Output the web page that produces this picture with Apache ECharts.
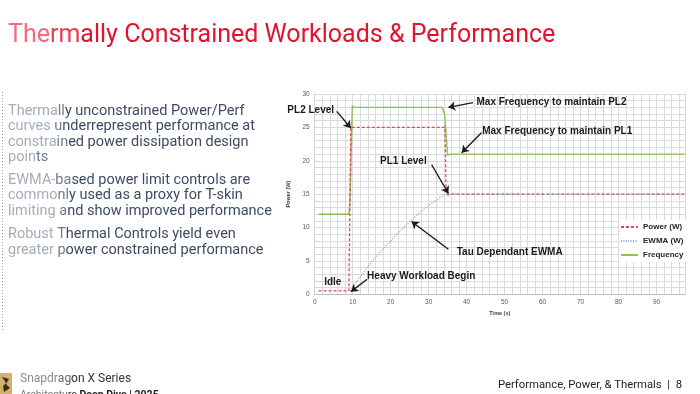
<!DOCTYPE html>
<html><head><meta charset="utf-8">
<script src="https://cdn.jsdelivr.net/npm/echarts@6/dist/echarts.min.js"></script>
<style>html,body{margin:0;padding:0;background:#fff}#c{width:700px;height:394px}</style>
</head><body><div id="c"></div>
<script>
// ---- data ----
const seriesNames = ['Power (W)', 'EWMA (W)', 'Frequency'];
const powerData = [[1,0.5],[9,0.5],[9.3,0.5],[9.5,25],[10,25.1],[34.3,25],[34.6,15.2],[35,14.9],[36,15],[97.5,15]];
const ewmaData = [[9.3,0.5],[10,1.1],[12,2.6],[14,4.1],[16,5.5],[18,6.8],[20,8.0],[22,9.2],[24,10.3],[26,11.4],[28,12.4],[30,13.3],[32,14.1],[34,14.8],[35,15.1],[36,15],[97.5,15]];
const freqData = [[1,12],[9,12],[9.1,11.9],[9.3,14],[9.9,28.2],[10.5,28],[33.5,28],[33.9,28.1],[34.2,27],[35,20.8],[35.6,21],[97.5,21]];
const xTickLabels = [0,10,20,30,40,50,60,70,80,90];
const yTickLabels = [0,5,10,15,20,25,30];
const xName = 'Time (s)';
const yName = 'Power (W)';
// annotation texts anchored at data coordinates (left edge, vertical middle)
const annotationTexts = ['PL2 Level','Max Frequency to maintain PL2','Max Frequency to maintain PL1','PL1 Level','Tau Dependant EWMA','Idle','Heavy Workload Begin'];
const annotationAnchors = [[-7.2,27.5],[42.6,28.8],[44.1,24.4],[17.2,19.9],[37.4,6.3],[2.5,1.75],[13.8,2.65]];
// arrows: [from, to] in data coordinates
const arrowFrom = [[5.8,27.4],[41.7,28.7],[43.9,24.2],[30.8,19.4],[35.2,6.75],[13.8,2.25]];
const arrowTo   = [[9.5,24.9],[35.2,28.0],[38.7,21.2],[35.2,15.1],[25.5,10.9],[9.55,0.4]];
// slide texts
const titleText = 'Thermally Constrained Workloads & Performance';
const bulletParagraphs = [
  ['Thermally unconstrained Power/Perf','curves underrepresent performance at','constrained power dissipation design','points'],
  ['EWMA-based power limit controls are','commonly used as a proxy for T-skin','limiting and show improved performance'],
  ['Robust Thermal Controls yield even','greater power constrained performance']
];
// how many leading characters of each line are drawn faded
const bulletFade = [[8,8,9,6],[7,7,10],[8,9]];
const footerLeft1 = 'Snapdragon X Series';
const footerLeft2a = 'Architecture ';
const footerLeft2b = 'Deep Dive | 2025';
const footerRight = 'Performance, Power, & Thermals  |  8';

const chart = echarts.init(document.getElementById('c'), null, {renderer:'canvas'});
const CF = 'Liberation Sans';
const SF = 'Roboto';

chart.setOption({
  animation: false,
  backgroundColor: '#ffffff',
  grid: {left: 314.7, top: 94, right: 15, bottom: 99.7, containLabel: false},
  legend: {
    data: seriesNames, orient: 'vertical', left: 619, top: 220,
    itemWidth: 17, itemHeight: 8, itemGap: 6,
    backgroundColor: '#ffffff', padding: [3, 4, 3, 1],
    itemStyle: {opacity: 0},
    textStyle: {fontFamily: CF, fontWeight: 'bold', fontSize: 8, color: '#262626'}
  },
  xAxis: {
    type: 'value', min: 0, max: 97.5, interval: 2,
    name: xName, nameLocation: 'middle', nameGap: 16,
    nameTextStyle: {fontFamily: CF, fontSize: 5.5, fontWeight: 'bold', color: '#404040'},
    axisLine: {show: true, lineStyle: {color: '#bfbfbf', width: 1}},
    axisTick: {show: false},
    axisLabel: {fontFamily: CF, fontSize: 6.5, color: '#595959', margin: 4,
      formatter: v => xTickLabels.indexOf(Math.round(v*100)/100) >= 0 ? String(v) : ''},
    splitLine: {show: true, lineStyle: {color: '#dadada', width: 1}}
  },
  yAxis: {
    type: 'value', min: 0, max: 30, interval: 1,
    name: yName, nameLocation: 'middle', nameGap: 17,
    nameTextStyle: {fontFamily: CF, fontSize: 5.5, fontWeight: 'bold', color: '#404040'},
    axisLine: {show: true, lineStyle: {color: '#d0d0d0', width: 1}},
    axisTick: {show: false},
    axisLabel: {fontFamily: CF, fontSize: 6.5, color: '#595959', margin: 5,
      formatter: v => yTickLabels.indexOf(Math.round(v*100)/100) >= 0 ? String(v) : ''},
    splitLine: {show: true, lineStyle: {color: '#dadada', width: 1}}
  },
  series: [
    {name: seriesNames[0], type: 'line', data: powerData, showSymbol: false, symbol: 'none', z: 3,
     lineStyle: {color: '#e04a4e', width: 1.3, type: [3, 2]}, itemStyle: {color: '#e04a4e'}},
    {name: seriesNames[1], type: 'line', data: ewmaData, showSymbol: false, symbol: 'none', smooth: 0.3, z: 4,
     lineStyle: {color: '#7aa7dc', width: 1.2, type: [1, 1.4]}, itemStyle: {color: '#7aa7dc'}},
    {name: seriesNames[2], type: 'line', data: freqData, showSymbol: false, symbol: 'none', z: 2,
     lineStyle: {color: '#8fbf56', width: 1.4}, itemStyle: {color: '#8fbf56'},
     markLine: {
       silent: true, animation: false, symbol: ['none', 'arrow'], symbolSize: 7,
       label: {show: false}, emphasis: {disabled: true},
       lineStyle: {color: '#1a1a1a', width: 1.4, type: 'solid'},
       data: arrowFrom.map((f, i) => [{coord: f}, {coord: arrowTo[i]}])
     }}
  ]
});

// ---- graphic texts ----
const graphics = [];
function esc(s) { return s.replace(/[{}|]/g, m => m); }
// faded-start text made of three rich segments
function fadedText(str, n, x, y, font, size, cLight, cMid, cDark, extra) {
  const nl = Math.max(0, n - 2);
  const a = str.slice(0, nl), b = str.slice(nl, n), c = str.slice(n);
  const rich = {
    l: {fontFamily: font, fontSize: size, fill: cLight},
    m: {fontFamily: font, fontSize: size, fill: cMid},
    d: {fontFamily: font, fontSize: size, fill: cDark}
  };
  let t = '';
  if (a) t += '{l|' + a + '}';
  if (b) t += '{m|' + b + '}';
  if (c) t += '{d|' + c + '}';
  return {type: 'text', silent: true, style: Object.assign({x: x, y: y, text: t, rich: rich, textVerticalAlign: 'middle'}, extra || {})};
}
// title
graphics.push(fadedText(titleText, 5, 8, 36, SF, 25, '#f46a80', '#ec3d57', '#e3132f'));
// bullets
const paraStart = [111, 180, 234.5];
const lineH = 15.5;
bulletParagraphs.forEach((lines, p) => {
  lines.forEach((ln, i) => {
    graphics.push(fadedText(ln, bulletFade[p][i], 8, paraStart[p] + i * lineH, SF, 14.5, '#a4acba', '#717c90', '#3e4b62'));
  });
});
// left dotted line
graphics.push({type: 'line', silent: true, shape: {x1: 2.5, y1: 92, x2: 2.5, y2: 330},
  style: {stroke: '#9a9a9a', lineWidth: 1, lineDash: [1, 2]}});
// footer logo
graphics.push({type: 'rect', silent: true, shape: {x: 0, y: 373, width: 12, height: 22, r: 1}, style: {fill: '#d3b06c'}});
graphics.push({type: 'polygon', silent: true, shape: {points: [[2,377],[9,379],[6,384],[10,388],[4,392],[3,386],[6,383]]}, style: {fill: '#3a2e1a'}});
// footer texts
graphics.push(fadedText(footerLeft1, 8, 20, 379, SF, 12, '#8c8c8c', '#666666', '#333333'));
graphics.push({type: 'text', silent: true, style: {
  x: 20, y: 395, text: '{a|Architectu}{c|re }{b|' + footerLeft2b + '}', textVerticalAlign: 'middle',
  rich: {a: {fontFamily: SF, fontSize: 10.5, fill: '#7a7a7a'}, c: {fontFamily: SF, fontSize: 10.5, fill: '#333333'},
         b: {fontFamily: SF, fontSize: 10.5, fontWeight: 'bold', fill: '#222222'}}
}});
graphics.push({type: 'text', silent: true, style: {
  x: 682, y: 385, text: footerRight, fontFamily: SF, fontSize: 11.3, textAlign: 'right', textVerticalAlign: 'middle', fill: '#222222'
}});
// chart annotations
annotationTexts.forEach((t, i) => {
  const p = chart.convertToPixel({gridIndex: 0}, annotationAnchors[i]);
  graphics.push({type: 'text', silent: true, z: 100, style: {
    x: p[0], y: p[1], text: t, fontFamily: CF, fontSize: 10, fontWeight: 'bold',
    textVerticalAlign: 'middle', fill: '#1a1a1a'
  }});
});
chart.setOption({graphic: graphics});
</script></body></html>
